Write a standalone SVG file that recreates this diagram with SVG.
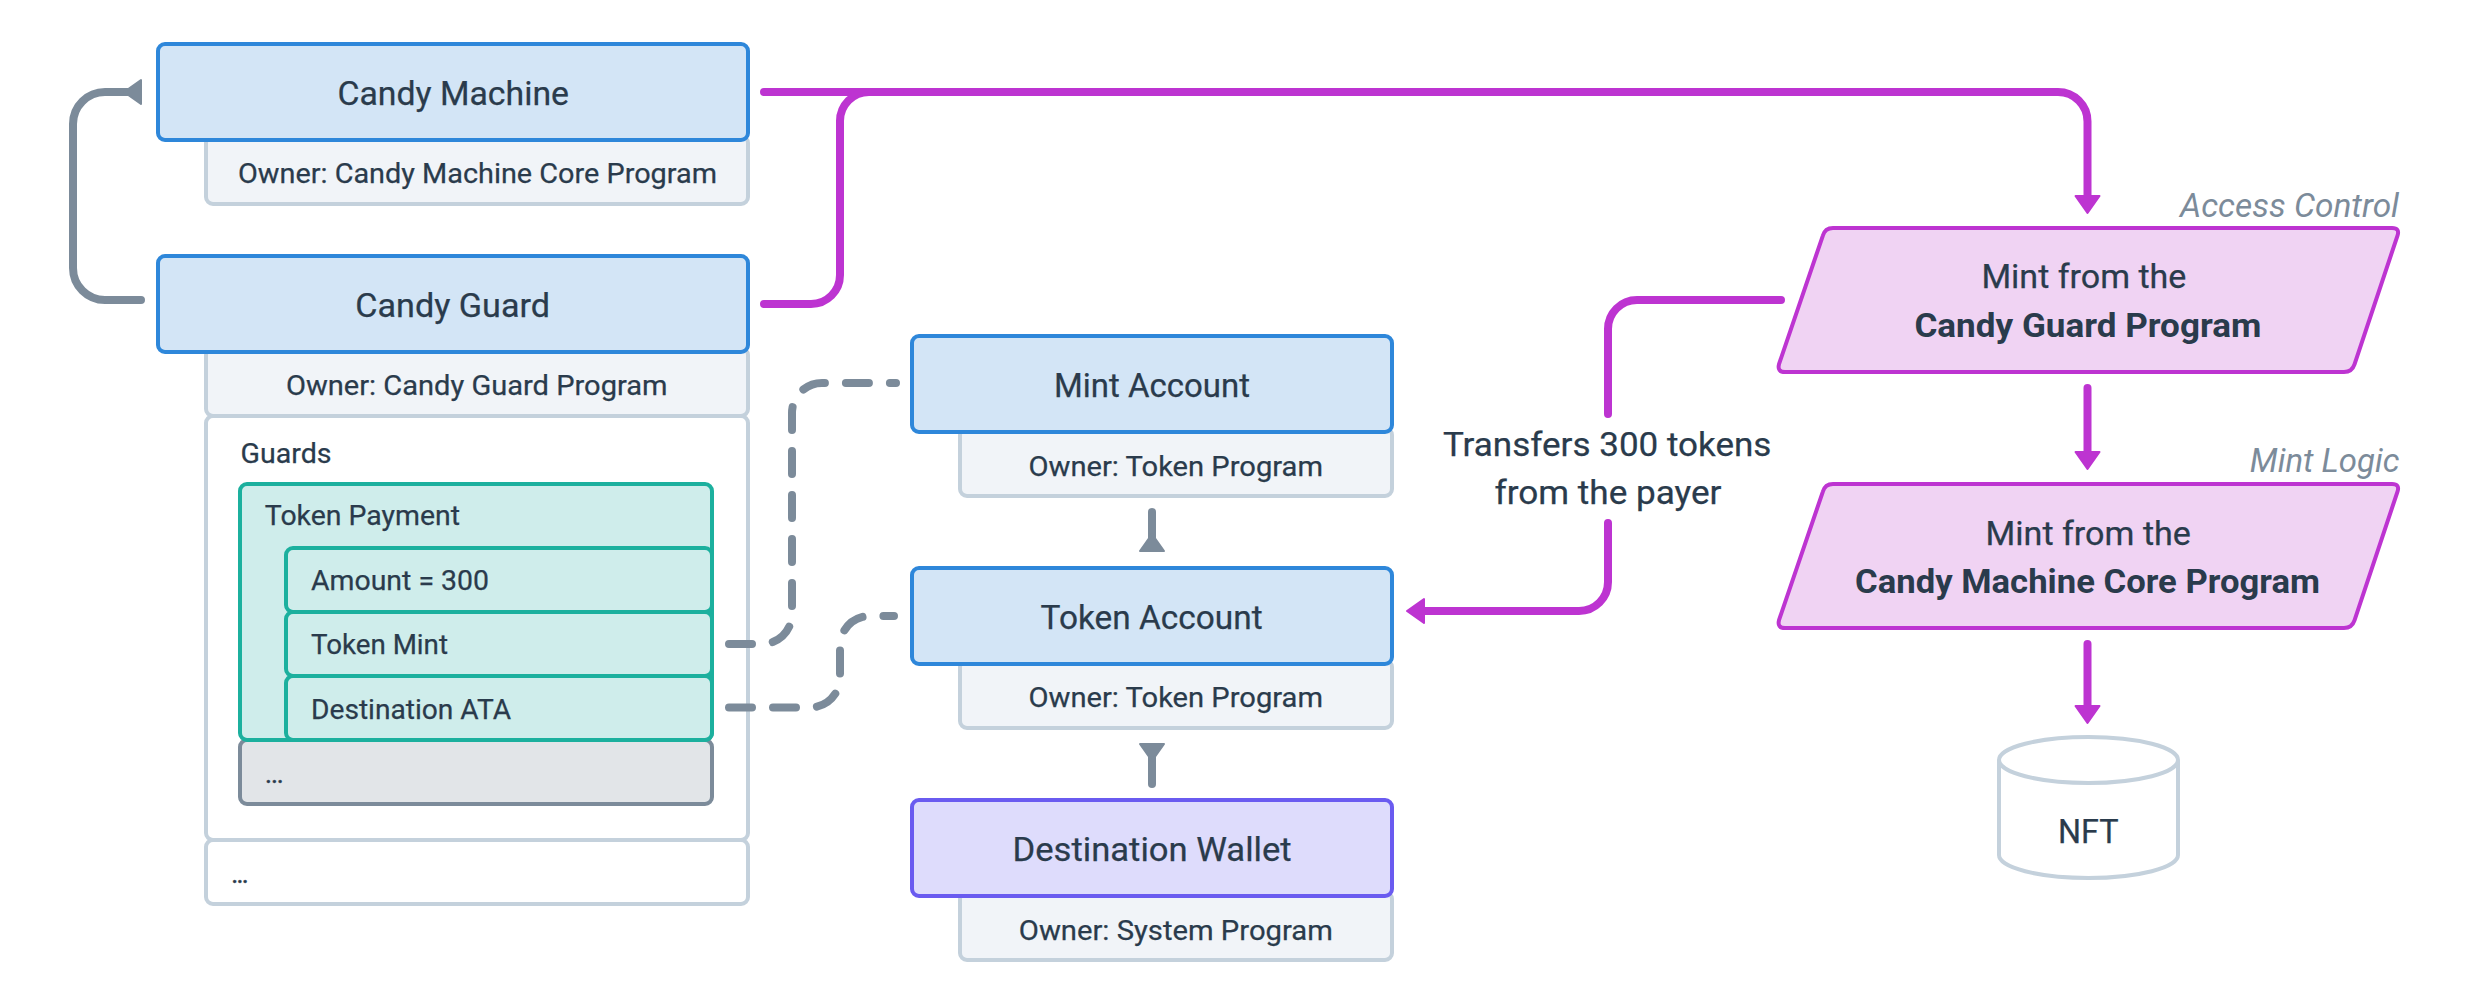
<svg xmlns="http://www.w3.org/2000/svg" width="2472" height="1008" viewBox="0 0 2472 1008">
<style>
text{font-family:"Roboto","Liberation Sans",sans-serif;fill:#2a3b4c;font-size:33px;font-weight:400;stroke:#2a3b4c;stroke-width:.25px}
.s{font-size:28.5px}
.b{font-weight:700;stroke:none}
.i{font-style:italic;fill:#7c8b9a;stroke:none}
rect{stroke-width:4}
.acc{fill:#d3e5f6;stroke:#2e87da}
.own{fill:#f1f4f8;stroke:#c4d1dc}
.wht{fill:#fff;stroke:#c4d1dc}
.tea{fill:#cfedeb;stroke:#1cb09e}
.gry{fill:#e2e5e8;stroke:#7c8b9a}
.pur{fill:#dedcfc;stroke:#6a5bf0}
.pgm{fill:#f0d3f3;stroke:#bd34d1;stroke-width:4;stroke-linejoin:round}
.cyl{fill:#fff;stroke:#c4d1dc;stroke-width:4}
.m{fill:none;stroke:#bd34d1;stroke-width:8;stroke-linecap:round}
.g{fill:none;stroke:#7c8b9a;stroke-width:8;stroke-linecap:round}
.d{stroke-dasharray:23 21}
</style>
<defs>
<marker id="mh" markerUnits="userSpaceOnUse" markerWidth="40" markerHeight="40" viewBox="-20 -20 40 40" refX="0" refY="0" orient="auto" overflow="visible"><path d="M0 -12L17 0L0 12Z" fill="#bd34d1" stroke="#bd34d1" stroke-width="2" stroke-linejoin="round"/></marker>
<marker id="gh" markerUnits="userSpaceOnUse" markerWidth="40" markerHeight="40" viewBox="-20 -20 40 40" refX="0" refY="0" orient="auto" overflow="visible"><path d="M3 -12L3 12L-14 0Z" fill="#7c8b9a" stroke="#7c8b9a" stroke-width="2" stroke-linejoin="round"/></marker>
</defs>
<g id="candy-machine">
<rect class="own" x="206" y="136" width="542" height="68" rx="7"/>
<rect class="acc" x="158" y="44" width="590" height="96" rx="7"/>
<text x="337.4" y="105" textLength="231.6" lengthAdjust="spacingAndGlyphs">Candy Machine</text>
<text class="s" x="238" y="182.7" textLength="479" lengthAdjust="spacingAndGlyphs">Owner: Candy Machine Core Program</text>
</g>
<g id="candy-guard">
<rect class="own" x="206" y="348" width="542" height="68" rx="7"/>
<rect class="acc" x="158" y="256" width="590" height="96" rx="7"/>
<text x="355.3" y="316.7" textLength="194.7" lengthAdjust="spacingAndGlyphs">Candy Guard</text>
<text class="s" x="286" y="395" textLength="381.5" lengthAdjust="spacingAndGlyphs">Owner: Candy Guard Program</text>
</g>
<g id="more">
<rect class="wht" x="206" y="840" width="542" height="64" rx="7"/>
<text class="s" x="231" y="882.8" textLength="18" lengthAdjust="spacing">...</text>
</g>
<g id="guards">
<rect class="wht" x="206" y="416" width="542" height="424" rx="7"/>
<text class="s" x="240.6" y="463" textLength="91" lengthAdjust="spacingAndGlyphs">Guards</text>
</g>
<g id="more-guards">
<rect class="gry" x="240" y="740" width="472" height="64" rx="7"/>
<text class="s" x="264.8" y="783" textLength="19.2" lengthAdjust="spacing">...</text>
</g>
<g id="token-payment">
<rect class="tea" x="240" y="484" width="472" height="256" rx="7"/>
<text class="s" x="264.8" y="524.7" textLength="195.2" lengthAdjust="spacingAndGlyphs">Token Payment</text>
</g>
<g id="amount">
<rect class="tea" x="286" y="548" width="426" height="64" rx="7"/>
<text class="s" x="311" y="590.4" textLength="178" lengthAdjust="spacingAndGlyphs">Amount = 300</text>
</g>
<g id="token-mint">
<rect class="tea" x="286" y="612" width="426" height="64" rx="7"/>
<text class="s" x="311" y="654" textLength="137" lengthAdjust="spacingAndGlyphs">Token Mint</text>
</g>
<g id="destination-ata">
<rect class="tea" x="286" y="676" width="426" height="64" rx="7"/>
<text class="s" x="311" y="718.5" textLength="200" lengthAdjust="spacingAndGlyphs">Destination ATA</text>
</g>
<g id="mint-account">
<rect class="own" x="960" y="428" width="432" height="68" rx="7"/>
<rect class="acc" x="912" y="336" width="480" height="96" rx="7"/>
<text x="1054" y="397" textLength="196" lengthAdjust="spacingAndGlyphs">Mint Account</text>
<text class="s" x="1028.5" y="475.7" textLength="294.5" lengthAdjust="spacingAndGlyphs">Owner: Token Program</text>
</g>
<g id="token-account">
<rect class="own" x="960" y="660" width="432" height="68" rx="7"/>
<rect class="acc" x="912" y="568" width="480" height="96" rx="7"/>
<text x="1040.6" y="629.4" textLength="222" lengthAdjust="spacingAndGlyphs">Token Account</text>
<text class="s" x="1028.5" y="707" textLength="294.5" lengthAdjust="spacingAndGlyphs">Owner: Token Program</text>
</g>
<g id="destination-wallet">
<rect class="own" x="960" y="892" width="432" height="68" rx="7"/>
<rect class="pur" x="912" y="800" width="480" height="96" rx="7"/>
<text x="1012.5" y="861" textLength="279.2" lengthAdjust="spacingAndGlyphs">Destination Wallet</text>
<text class="s" x="1018.8" y="939.5" textLength="314" lengthAdjust="spacingAndGlyphs">Owner: System Program</text>
</g>
<g id="transfer-label">
<text x="1443" y="455.5" textLength="328.4" lengthAdjust="spacingAndGlyphs">Transfers 300 tokens</text>
<text x="1494.5" y="504" textLength="227" lengthAdjust="spacingAndGlyphs">from the payer</text>
</g>
<g id="access-control">
<path class="pgm" d="M1833 228H2392Q2400 228 2397.5 235.6L2354.5 364.4Q2352 372 2344 372H1785Q1777 372 1779 364.2L1822.8 235.8Q1825 228 1833 228Z"/>
<text class="i" x="2180" y="216.7" textLength="219" lengthAdjust="spacingAndGlyphs">Access Control</text>
<text x="1981.4" y="288" textLength="205" lengthAdjust="spacingAndGlyphs">Mint from the</text>
<text class="b" x="1914.4" y="336.7" textLength="347" lengthAdjust="spacingAndGlyphs">Candy Guard Program</text>
</g>
<g id="mint-logic">
<path class="pgm" d="M1833 484H2392Q2400 484 2397.5 491.6L2354.5 620.4Q2352 628 2344 628H1785Q1777 628 1779 620.2L1822.8 491.8Q1825 484 1833 484Z"/>
<text class="i" x="2249.8" y="472.3" textLength="149.6" lengthAdjust="spacingAndGlyphs">Mint Logic</text>
<text x="1985.5" y="545" textLength="205.4" lengthAdjust="spacingAndGlyphs">Mint from the</text>
<text class="b" x="1855" y="593.3" textLength="465" lengthAdjust="spacingAndGlyphs">Candy Machine Core Program</text>
</g>
<g id="nft">
<path class="cyl" d="M1999 760A89.5 23 0 0 1 2178 760V855A89.5 23 0 0 1 1999 855Z"/>
<path class="cyl" style="fill:none" d="M1999 760A89.5 23 0 0 0 2178 760"/>
<text x="2058" y="842.7" textLength="60.6" lengthAdjust="spacingAndGlyphs">NFT</text>
</g>
<g id="connectors">
<path class="g" d="M141 300H105A32 32 0 0 1 73 268V124A32 32 0 0 1 105 92H138" marker-end="url(#gh)"/>
<path class="m" d="M764 92H2058A29.5 29.5 0 0 1 2087.5 121.5V196" marker-end="url(#mh)"/>
<path class="m" d="M764 304H811A29 29 0 0 0 840 275V121A29 29 0 0 1 869 92H900"/>
<path class="g d" d="M729 644H762A30 30 0 0 0 792 614V413A30 30 0 0 1 822 383H896"/>
<path class="g d" d="M729 707.5H810A30 30 0 0 0 840 677.5V646A30 30 0 0 1 870 616H894"/>
<path class="g" d="M1152 512V548" marker-end="url(#gh)"/>
<path class="g" d="M1152 784V747" marker-end="url(#gh)"/>
<path class="m" d="M1781 300H1637A29 29 0 0 0 1608 329V414"/>
<path class="m" d="M1608 523V582A29 29 0 0 1 1579 611H1424" marker-end="url(#mh)"/>
<path class="m" d="M2087.5 388V452" marker-end="url(#mh)"/>
<path class="m" d="M2087.5 644V706" marker-end="url(#mh)"/>
</g>
</svg>
